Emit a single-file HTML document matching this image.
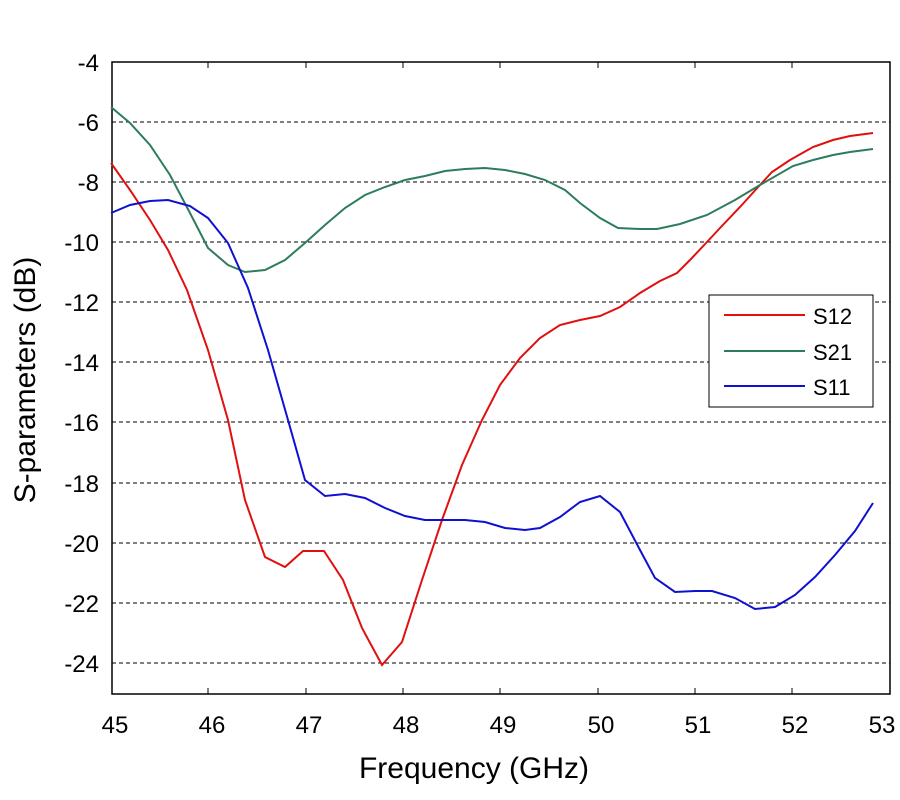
<!DOCTYPE html>
<html><head><meta charset="utf-8"><style>body{margin:0;background:#fff}svg{display:block}</style></head><body>
<svg width="900" height="800" xmlns="http://www.w3.org/2000/svg" font-family="Liberation Sans, sans-serif">
<rect width="900" height="800" fill="#fff"/>
<g stroke="#000" stroke-width="1" stroke-dasharray="4,3">
<line x1="112" x2="890" y1="122" y2="122"/><line x1="112" x2="890" y1="182" y2="182"/><line x1="112" x2="890" y1="242" y2="242"/><line x1="112" x2="890" y1="302" y2="302"/><line x1="112" x2="890" y1="362" y2="362"/><line x1="112" x2="890" y1="422" y2="422"/><line x1="112" x2="890" y1="483" y2="483"/><line x1="112" x2="890" y1="543" y2="543"/><line x1="112" x2="890" y1="603" y2="603"/><line x1="112" x2="890" y1="663" y2="663"/>
</g>
<rect x="112" y="62" width="778" height="632" fill="none" stroke="#000" stroke-width="1.5"/>
<g stroke="#000" stroke-width="1">
<line x1="208" x2="208" y1="694" y2="688"/><line x1="306" x2="306" y1="694" y2="688"/><line x1="403" x2="403" y1="694" y2="688"/><line x1="500" x2="500" y1="694" y2="688"/><line x1="598" x2="598" y1="694" y2="688"/><line x1="695" x2="695" y1="694" y2="688"/><line x1="792" x2="792" y1="694" y2="688"/>
<line x1="208" x2="208" y1="62" y2="68"/><line x1="306" x2="306" y1="62" y2="68"/><line x1="403" x2="403" y1="62" y2="68"/><line x1="500" x2="500" y1="62" y2="68"/><line x1="598" x2="598" y1="62" y2="68"/><line x1="695" x2="695" y1="62" y2="68"/><line x1="792" x2="792" y1="62" y2="68"/>
</g>
<g font-size="24" text-anchor="end" fill="#000">
<text x="99" y="71">-4</text><text x="99" y="131">-6</text><text x="99" y="191">-8</text><text x="99" y="251">-10</text><text x="99" y="311">-12</text><text x="99" y="371">-14</text><text x="99" y="431">-16</text><text x="99" y="492">-18</text><text x="99" y="552">-20</text><text x="99" y="612">-22</text><text x="99" y="672">-24</text>
</g>
<g font-size="24" text-anchor="middle" fill="#000">
<text x="115" y="733">45</text><text x="212" y="733">46</text><text x="309" y="733">47</text><text x="406" y="733">48</text><text x="503" y="733">49</text><text x="601" y="733">50</text><text x="698" y="733">51</text><text x="795" y="733">52</text><text x="882" y="733">53</text>
</g>
<text x="474" y="778" font-size="30" text-anchor="middle">Frequency (GHz)</text>
<text transform="translate(35,380) rotate(-90)" font-size="30" text-anchor="middle">S-parameters (dB)</text>
<polyline fill="none" stroke="#e01010" stroke-width="2" points="111,163 130,190 150,220 168,250 187,290 208,350 228,420 245,500 265,557 285,567 303,551 324,551 343,580 362,628 382,665 402,642 422,580 442,520 462,465 482,420 500,385 520,358 540,338 560,325 580,320 600,316 620,307 640,293 660,281 677,273 690,260 707,242 720,228 740,207 760,185 772,172 790,160 813,147 833,140 850,136 873,133"/>
<polyline fill="none" stroke="#2e7d5a" stroke-width="2" points="111,107 130,123 150,145 170,175 190,213 208,248 228,265 245,272 265,270 285,260 305,243 325,225 345,208 365,195 385,187 405,180 425,176 445,171 465,169 485,168 505,170 525,174 545,180 565,190 580,203 600,218 618,228 640,229 657,229 680,224 707,215 735,200 760,185 793,166 813,160 833,155 850,152 873,149"/>
<polyline fill="none" stroke="#1010d0" stroke-width="2" points="111,213 130,205 150,201 168,200 190,206 208,218 228,243 248,288 268,350 288,420 305,480 325,496 345,494 365,498 385,508 405,516 425,520 445,520 465,520 485,522 505,528 525,530 540,528 560,517 580,502 600,496 620,512 640,550 655,578 675,592 695,591 712,591 735,598 755,609 775,607 795,595 815,577 835,555 855,531 873,503"/>
<rect x="709" y="295" width="164" height="112" fill="#fff" stroke="#000" stroke-width="1"/>
<line x1="724" x2="805" y1="315" y2="315" stroke="#e01010" stroke-width="2"/>
<line x1="724" x2="805" y1="351" y2="351" stroke="#2e7d5a" stroke-width="2"/>
<line x1="724" x2="805" y1="386" y2="386" stroke="#1010d0" stroke-width="2"/>
<g font-size="22" fill="#000"><text x="813" y="324">S12</text><text x="813" y="360">S21</text><text x="813" y="395">S11</text></g>
</svg>
</body></html>
